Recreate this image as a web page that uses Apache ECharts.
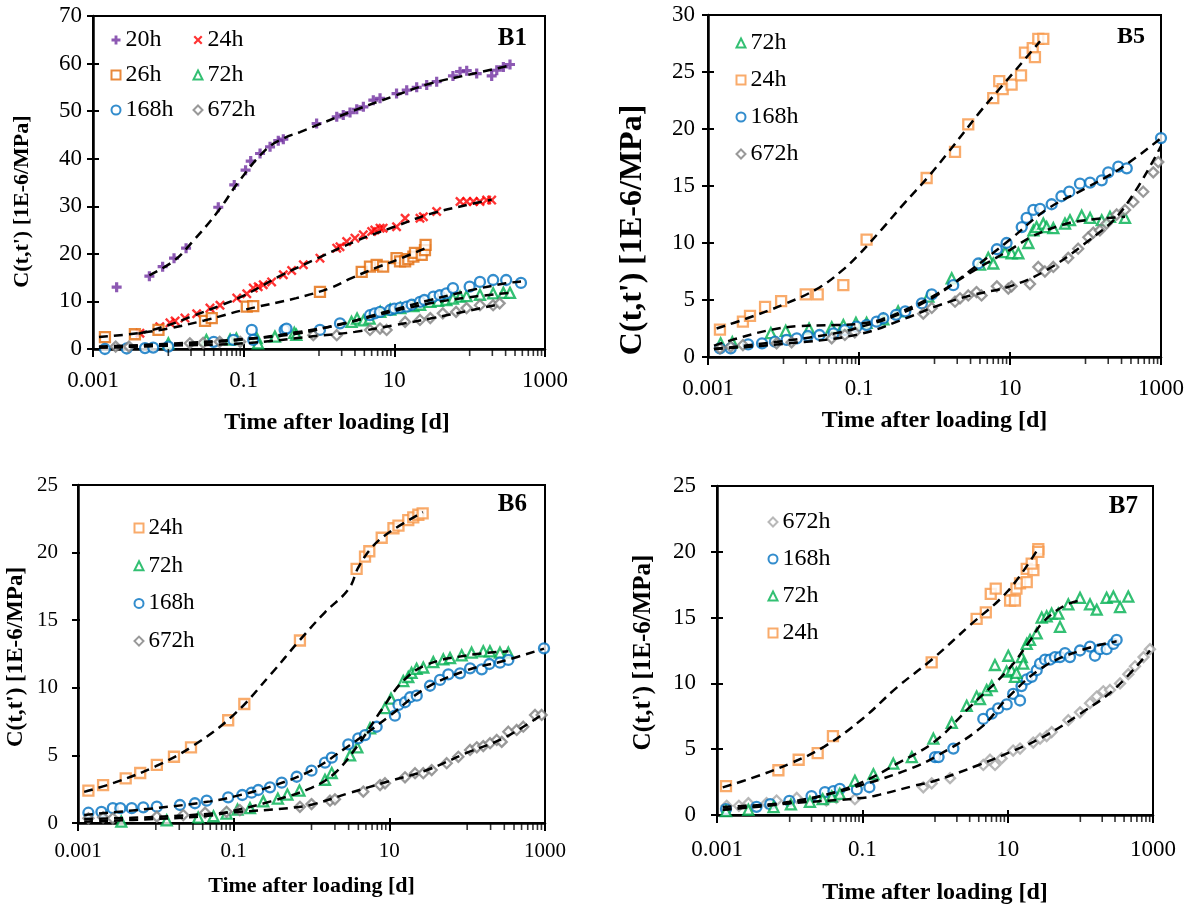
<!DOCTYPE html>
<html><head><meta charset="utf-8">
<script src="https://cdn.jsdelivr.net/npm/echarts@6/dist/echarts.min.js"></script>
<style>html,body{margin:0;padding:0;background:#fff}#c{width:1194px;height:906px}</style>
</head><body><div id="c"></div>
<script>
// ---------- axis ticks / labels ----------
const X_MIN = 0.001, X_MAX = 1000;
const xMajorTicks = [0.001, 0.1, 10, 1000];
const xMinorTicks = [0.01,0.02,0.03,0.04,0.05,0.06,0.07,0.08,0.09,1,2,3,4,5,6,7,8,9,100,200,300,400,500,600,700,800,900];
const xTitle = 'Time after loading [d]';
const yTitle = "C(t,t') [1E-6/MPa]";

// ---------- B1 ----------
const B1_20h = [[0.00206,13.0],[0.0056,15.3],[0.0084,17.3],[0.0119,19.1],[0.0172,21.2],[0.046,29.8],[0.075,34.5],[0.106,37.6],[0.124,39.5],[0.165,41.1],[0.224,42.5],[0.288,43.8],[0.336,44.1],[0.93,47.4],[1.72,48.8],[2.1,49.2],[2.58,49.7],[3.17,50.4],[3.88,50.9],[5.26,52.3],[6.46,52.7],[10.7,53.7],[14.6,54.4],[19.8,55.0],[26.9,55.5],[36.5,56.2],[60,57.4],[74.5,58.3],[91.4,58.5],[124,57.9],[196,57.4],[229,58.6],[280,59.3],[343,59.8]];
const B1_20h_fit = [[0.0056,15.5],[0.012,18.6],[0.02,22.2],[0.046,29.0],[0.089,35.5],[0.2,42.0],[0.35,44.4],[0.56,45.6],[1,47.2],[3,50.2],[10,53.2],[30,55.8],[100,57.7],[343,59.6]];
const B1_24h = [[0.0042,3.3],[0.0077,4.7],[0.0105,5.5],[0.0123,5.9],[0.0166,6.5],[0.0238,7.4],[0.0357,8.6],[0.0485,9.2],[0.081,10.7],[0.11,11.6],[0.134,12.8],[0.156,13.1],[0.182,13.5],[0.235,14.1],[0.336,15.6],[0.434,16.5],[0.62,17.7],[1.03,19.1],[1.72,21.2],[1.9,21.5],[2.33,22.6],[3.0,23.3],[3.87,24.0],[5.0,24.7],[5.5,25.0],[6.46,25.4],[7.1,25.4],[10.7,25.7],[13.9,27.5],[21.9,27.5],[24.3,27.8],[36.5,28.9],[74.5,31.0],[91.4,31.0],[112,31.0],[137,31.0],[168,31.3],[196,31.3]];
const B1_24h_fit = [[0.004,3.2],[0.01,5.0],[0.02,6.8],[0.05,9.2],[0.1,11.2],[0.3,15.3],[1,19.2],[3,22.6],[10,25.7],[30,28.4],[100,30.4],[196,31.4]];
const B1_26h = [[0.00144,2.5],[0.0036,3.1],[0.0074,4.0],[0.0307,5.9],[0.0377,6.5],[0.11,8.9],[0.134,9.0],[1.03,12.0],[3.69,16.2],[4.75,17.3],[5.83,17.7],[7.1,17.3],[10.7,19.1],[11.9,18.4],[13.9,18.4],[15.3,18.9],[17.9,19.4],[18.8,20.2],[23.1,19.8],[25.5,20.8],[26,21.9]];
const B1_26h_fit = [[0.0012,2.5],[0.004,3.3],[0.01,4.3],[0.03,6.0],[0.1,8.2],[0.5,10.7],[1.4,12.8],[2.7,14.9],[6,17.2],[12,19.0],[26,21.2]];
const B1_72h = [[0.01,1.2],[0.032,1.9],[0.066,2.0],[0.08,2.2],[0.149,2.3],[0.155,1.2],[0.26,2.6],[0.47,3.4],[0.5,3.0],[2.7,5.7],[3.2,6.4],[3.9,6.0],[4.7,6.4],[6.5,7.8],[8.8,8.3],[12,8.6],[17.9,9.0],[22,9.3],[30,9.9],[38,10.1],[49,10.3],[60,10.6],[74.5,11.0],[91,11.1],[137,11.4],[205,11.7],[280,11.8],[343,11.8]];
const B1_72h_fit = [[0.0012,0.5],[0.01,1.1],[0.1,2.1],[0.5,3.2],[2,5.3],[5,6.8],[10,8.0],[30,9.6],[100,10.9],[343,11.8]];
const B1_168h = [[0.00144,0.0],[0.0028,0.1],[0.0049,0.2],[0.0063,0.3],[0.01,0.5],[0.04,1.5],[0.073,1.9],[0.128,4.0],[0.134,1.9],[0.35,4.0],[0.37,4.3],[1.03,4.0],[1.9,5.4],[4.75,7.1],[5.5,7.5],[6.46,7.8],[8.8,8.2],[10,8.5],[12,8.7],[14.6,8.9],[17,9.3],[21.9,9.9],[25,10.3],[33,11.0],[40,11.3],[49,11.7],[60,12.8],[100,13.1],[137,14.1],[205,14.5],[305,14.5],[480,13.9]];
const B1_168h_fit = [[0.0012,0.3],[0.01,0.8],[0.1,2.0],[0.5,3.5],[2,5.2],[5,7.0],[10,8.3],[30,10.3],[100,12.3],[300,13.8],[480,14.2]];
const B1_672h = [[0.002,0.5],[0.003,0.5],[0.0193,1.2],[0.029,1.3],[0.048,1.5],[0.09,1.5],[0.84,2.9],[1.72,2.9],[4.75,4.0],[6.46,4.3],[7.9,4.0],[13.9,5.7],[21.9,6.1],[30,6.5],[44,7.5],[66,7.8],[91,8.6],[137,9.2],[205,9.2],[250,9.6]];
const B1_672h_fit = [[0.0012,0.3],[0.01,0.7],[0.1,1.2],[1,2.8],[3,3.6],[10,5.0],[30,6.4],[100,8.1],[250,9.4]];

// ---------- B5 ----------
const B5_72h = [[0.00147,1.2],[0.0021,1.3],[0.0068,2.1],[0.0107,2.3],[0.0218,2.5],[0.0435,2.6],[0.062,2.8],[0.091,3.0],[0.126,3.0],[0.21,3.3],[0.33,4.0],[0.83,5.3],[1.69,6.9],[4.0,8.1],[5.15,8.7],[6.0,8.2],[8.6,9.2],[10.5,9.1],[12.9,9.1],[17.5,10.0],[20.4,11.1],[22.5,11.4],[27.6,11.7],[30.6,11.4],[37.5,11.3],[53.5,11.7],[62.3,12.0],[89,12.4],[115,12.2],[164,12.0],[211,12.3],[334,12.2]];
const B5_72h_fit = [[0.0012,1.0],[0.003,1.8],[0.007,2.4],[0.015,2.7],[0.05,2.8],[0.1,2.9],[0.2,3.3],[0.5,4.4],[1,5.4],[3,7.4],[10,9.4],[20,10.6],[50,11.6],[100,12.0],[334,12.3]];
const B5_24h = [[0.00144,2.4],[0.0029,3.1],[0.0036,3.6],[0.0057,4.4],[0.0093,4.9],[0.0197,5.5],[0.0284,5.5],[0.062,6.3],[0.126,10.3],[0.787,15.7],[1.87,18.0],[2.8,20.4],[6.0,22.7],[7.2,24.2],[8.0,23.5],[10.5,23.9],[14,24.7],[15.8,26.7],[20,27.1],[21.4,26.3],[23.7,27.9],[27.6,27.9]];
const B5_24h_fit = [[0.0013,2.5],[0.003,3.3],[0.01,4.6],[0.03,6.1],[0.06,7.6],[0.1,9.0],[0.2,11.2],[0.4,13.5],[0.8,15.7],[1.5,17.9],[4,21.5],[7,23.4],[12,25.2],[25,27.7]];
const B5_168h = [[0.00144,0.76],[0.002,0.76],[0.0034,1.1],[0.0052,1.2],[0.0077,1.34],[0.011,1.5],[0.015,1.64],[0.021,1.84],[0.03,1.93],[0.046,2.08],[0.065,2.37],[0.093,2.66],[0.126,2.8],[0.171,3.1],[0.21,3.4],[0.31,3.7],[0.41,4.0],[0.68,4.7],[0.92,5.5],[1.77,6.3],[3.8,8.2],[6.7,9.45],[9.0,10.0],[14.3,11.4],[16.6,12.2],[20.4,12.9],[25,13.0],[35.6,13.4],[48,14.1],[61,14.5],[84.5,15.2],[115,15.3],[164,15.5],[200,16.2],[272,16.7],[352,16.55],[1000,19.2]];
const B5_168h_fit = [[0.0012,0.7],[0.01,1.4],[0.05,2.1],[0.1,2.6],[0.3,3.6],[1,5.3],[3,7.6],[10,10.3],[30,12.9],[100,14.8],[300,16.6],[1000,19.2]];
const B5_672h = [[0.00144,0.76],[0.002,0.9],[0.0029,1.05],[0.0081,1.2],[0.0128,1.29],[0.0435,1.64],[0.065,1.93],[0.088,2.17],[0.71,3.8],[0.92,4.3],[1.87,4.85],[2.18,5.15],[2.8,5.4],[3.6,5.7],[4.2,5.4],[6.7,6.2],[9.5,6.0],[10.5,6.2],[18.4,6.4],[23.7,7.9],[29,7.5],[37.5,7.9],[59,8.7],[80,9.5],[109,10.5],[127,10.9],[155,11.1],[190,11.7],[259,12.5],[334,12.9],[430,13.6],[582,14.5],[790,16.2],[920,17.1]];
const B5_672h_fit = [[0.0012,0.7],[0.01,1.15],[0.1,2.0],[0.5,3.6],[1,4.4],[3,5.4],[10,6.2],[30,7.6],[100,10.0],[300,12.8],[1000,18.5]];

// ---------- B6 ----------
const B6_24h = [[0.00136,2.4],[0.0021,2.8],[0.0041,3.3],[0.0063,3.7],[0.0103,4.3],[0.0171,4.9],[0.0283,5.6],[0.085,7.6],[0.137,8.8],[0.71,13.5],[3.8,18.8],[4.87,19.7],[5.53,20.1],[7.98,21.1],[11.3,21.8],[13.1,22.0],[17.5,22.4],[20.3,22.6],[23.6,22.8],[26.8,22.9]];
const B6_24h_fit = [[0.0012,2.3],[0.003,3.0],[0.01,4.2],[0.03,5.7],[0.1,8.0],[0.3,11.0],[0.7,13.5],[1.5,15.6],[3,17.3],[4,18.9],[6,20.4],[10,21.5],[27,23.0]];
const B6_72h = [[0.0036,0.1],[0.0138,0.2],[0.035,0.4],[0.055,0.5],[0.081,0.7],[0.112,1.0],[0.162,1.1],[0.24,1.6],[0.37,1.8],[0.49,2.1],[0.7,2.4],[1.49,3.2],[1.82,3.7],[3.13,5.0],[3.88,5.6],[5.65,7.0],[8.8,8.5],[10.5,9.2],[15.1,10.5],[17.5,10.8],[19.3,11.1],[22.4,11.4],[27.3,11.5],[36.7,11.9],[49.4,12.1],[60.2,12.2],[85,12.4],[114,12.6],[161,12.7],[196,12.7],[264,12.6],[338,12.6]];
const B6_72h_fit = [[0.0012,0.1],[0.01,0.3],[0.05,0.55],[0.1,0.9],[0.3,1.6],[1,2.6],[2,3.7],[4,5.8],[8,8.4],[15,10.5],[30,11.7],[100,12.4],[338,12.7]];
const B6_168h = [[0.00136,0.76],[0.002,0.83],[0.0028,1.1],[0.0035,1.1],[0.0049,1.1],[0.0069,1.16],[0.0103,1.21],[0.0204,1.33],[0.0318,1.46],[0.045,1.65],[0.085,1.9],[0.129,2.07],[0.17,2.24],[0.207,2.44],[0.293,2.64],[0.414,2.98],[0.645,3.42],[1.0,3.87],[1.49,4.46],[1.82,4.83],[2.97,5.82],[3.99,6.26],[4.87,6.5],[6.87,7.12],[11.8,7.94],[13.1,8.73],[15.9,8.93],[18.5,9.3],[22.5,9.42],[33.3,10.15],[44.8,10.58],[57.3,11.0],[81,11.07],[109,11.44],[154,11.37],[193,11.76],[264,11.86],[338,12.06],[971,12.92]];
const B6_168h_fit = [[0.0012,0.6],[0.01,1.1],[0.05,1.6],[0.1,1.95],[0.3,2.7],[1,3.9],[3,5.7],[5,6.6],[10,7.9],[30,10.0],[100,11.3],[300,12.0],[971,12.9]];
const B6_672h = [[0.00136,0.35],[0.0021,0.42],[0.0028,0.35],[0.0103,0.47],[0.0225,0.59],[0.043,0.76],[0.081,0.83],[0.12,0.96],[0.71,1.2],[1.0,1.4],[1.73,1.65],[2.0,1.75],[4.63,2.32],[7.6,2.81],[8.8,2.94],[15.9,3.38],[21.4,3.68],[27.3,3.68],[35,3.92],[54.6,4.42],[77,4.9],[109,5.4],[133,5.6],[161,5.69],[197,5.9],[240,6.14],[278,6.0],[338,6.75],[433,6.88],[526,7.12],[745,7.99],[906,7.99]];
const B6_672h_fit = [[0.0012,0.3],[0.01,0.45],[0.1,0.8],[0.5,1.1],[1,1.35],[3,2.2],[10,3.1],[30,3.9],[100,5.2],[300,6.3],[906,8.0]];

// ---------- B7 ----------
const B7_672h = [[0.00136,0.7],[0.002,0.7],[0.0027,0.9],[0.0048,0.9],[0.0066,1.1],[0.0125,1.3],[0.032,1.1],[0.044,1.3],[0.079,1.2],[0.69,2.1],[0.9,2.4],[1.61,2.8],[4.62,3.8],[5.72,4.2],[6.7,3.8],[8.26,4.3],[11.9,4.9],[14.8,5.05],[22.5,5.5],[27.9,5.8],[34.4,6.0],[40.3,6.3],[68.4,7.2],[99,7.8],[136,8.5],[168,9.0],[207,9.4],[256,9.5],[352,10.0],[457,10.7],[565,11.3],[741,12.0],[908,12.6]];
const B7_672h_fit = [[0.0012,0.6],[0.01,0.9],[0.1,1.3],[0.175,1.55],[0.5,2.2],[1,2.6],[4,3.8],[10,4.7],[30,5.9],[100,7.7],[300,9.6],[908,12.5]];
const B7_168h = [[0.00133,0.45],[0.0035,0.62],[0.0054,0.82],[0.0099,1.07],[0.02,1.44],[0.0306,1.74],[0.04,1.81],[0.049,1.99],[0.084,1.94],[0.125,2.11],[1.0,4.4],[1.12,4.4],[1.79,5.05],[4.62,7.3],[6.03,7.7],[7.4,8.1],[9.7,8.4],[11.9,9.2],[14.8,8.7],[15.5,9.8],[18.3,10.3],[21.4,10.5],[25.1,11.0],[27.9,11.5],[32.7,11.8],[38.2,11.8],[44.8,12.0],[52.5,12.0],[61.5,12.3],[72,12.0],[99,12.5],[136,12.8],[159,12.1],[186,12.6],[230,12.6],[285,13.0],[316,13.3]];
const B7_168h_fit = [[0.0012,0.4],[0.01,1.0],[0.05,1.8],[0.1,2.3],[0.175,2.7],[0.5,3.6],[1,4.4],[4.2,6.6],[10,8.9],[30,11.2],[100,12.5],[316,13.2]];
const B7_72h = [[0.00133,0.3],[0.0027,0.4],[0.006,0.6],[0.0104,0.8],[0.019,1.0],[0.0285,1.2],[0.038,1.4],[0.049,1.6],[0.079,2.6],[0.142,3.1],[0.267,3.9],[0.48,4.4],[0.95,5.8],[1.7,7.0],[2.73,8.3],[3.74,9.0],[4.16,8.8],[5.14,9.5],[6.03,9.8],[6.68,11.4],[9.66,10.9],[10.2,12.1],[11.3,11.0],[12.6,10.5],[13.2,10.8],[15.6,12.0],[16.4,11.5],[18.3,13.0],[20.3,13.3],[25.1,13.8],[29.4,15.0],[34.4,15.1],[40.3,15.3],[49.8,15.3],[52.5,14.3],[68.4,16.0],[99,16.5],[136,16.0],[168,15.6],[230,16.5],[285,16.6],[352,15.8],[457,16.6]];
const B7_72h_fit = [[0.0012,0.4],[0.01,0.9],[0.03,1.5],[0.1,2.5],[0.3,3.9],[1,5.6],[3,8.2],[10,11.0],[20,13.2],[30,14.6],[60,15.9],[100,16.3]];
const B7_24h = [[0.00133,2.2],[0.007,3.4],[0.0133,4.2],[0.0243,4.7],[0.0394,6.0],[0.9,11.6],[3.74,14.9],[5.0,15.4],[5.85,16.8],[6.85,17.2],[10.8,16.3],[12.6,16.3],[13.2,17.2],[14.8,17.6],[18.3,17.7],[18.3,18.7],[22.6,18.6],[21.4,19.1],[26.4,20.2],[26.4,20.0]];
const B7_24h_fit = [[0.0012,2.1],[0.003,2.8],[0.01,3.9],[0.03,5.2],[0.1,7.3],[0.3,9.7],[0.9,11.8],[3,14.4],[10,17.0],[26,20.2]];

// ---------- styling ----------
const FONT = '"Liberation Serif","Times New Roman",serif';
const PLUS = 'path://M3.4,0H6.6V3.4H10V6.6H6.6V10H3.4V6.6H0V3.4H3.4Z';
const CROSS = 'path://M0,1.7L1.7,0L5,3.3L8.3,0L10,1.7L6.7,5L10,8.3L8.3,10L5,6.7L1.7,10L0,8.3L3.3,5Z';
const MK = {
  plus:   {symbol: PLUS, size: 10, filled: true},
  cross:  {symbol: CROSS, size: 10, filled: true},
  square: {symbol: 'rect', size: 10, filled: false},
  tri:    {symbol: 'triangle', size: 10, filled: false},
  circle: {symbol: 'circle', size: 10, filled: false},
  diam:   {symbol: 'diamond', size: 10, filled: false}
};

const panels = [
  {id:'B1', grid:[93,16,452,333], yMax:70, yInt:10, tick:23, xLM:20, yLM:11,
   xT:{size:24, gap:62, pad:36}, yT:{size:22, gap:60, shift:19},
   tag:{x:527, y:39, size:25},
   legends:[{left:110.5, top:27, gap:9, keys:['20h','26h','168h']},{left:192.5, top:27, gap:9, keys:['24h','72h','672h']}], lfont:24,
   series:[
     {key:'20h', data:B1_20h, fit:B1_20h_fit, mk:'plus', color:'#7030A0'},
     {key:'24h', data:B1_24h, fit:B1_24h_fit, mk:'cross', color:'#FF0000'},
     {key:'26h', data:B1_26h, fit:B1_26h_fit, mk:'square', color:'#E46C0A'},
     {key:'72h', data:B1_72h, fit:B1_72h_fit, mk:'tri', color:'#00B050'},
     {key:'168h', data:B1_168h, fit:B1_168h_fit, mk:'circle', color:'#0070C0'},
     {key:'672h', data:B1_672h, fit:B1_672h_fit, mk:'diam', color:'#7F7F7F'}
   ]},
  {id:'B5', grid:[708,15,453,342], yMax:30, yInt:5, tick:23, xLM:20, yLM:13,
   xT:{size:24, gap:52, pad:0}, yT:{size:32, gap:59, shift:44},
   tag:{x:1145, y:37, size:24},
   legends:[{left:735.5, top:30, gap:11, keys:['72h','24h','168h','672h']}], lfont:24,
   series:[
     {key:'72h', data:B5_72h, fit:B5_72h_fit, mk:'tri', color:'#00B050'},
     {key:'24h', data:B5_24h, fit:B5_24h_fit, mk:'square', color:'#F79646'},
     {key:'168h', data:B5_168h, fit:B5_168h_fit, mk:'circle', color:'#0070C0'},
     {key:'672h', data:B5_672h, fit:B5_672h_fit, mk:'diam', color:'#808080'}
   ]},
  {id:'B6', grid:[78,485,467,338], yMax:25, yInt:5, tick:21, xLM:18, yLM:20,
   xT:{size:22, gap:52, pad:0}, yT:{size:23, gap:50, shift:3},
   tag:{x:527, y:505, size:25},
   legends:[{left:133.5, top:515, gap:11.7, keys:['24h','72h','168h','672h']}], lfont:23,
   series:[
     {key:'24h', data:B6_24h, fit:B6_24h_fit, mk:'square', color:'#F79646'},
     {key:'72h', data:B6_72h, fit:B6_72h_fit, mk:'tri', color:'#00B050'},
     {key:'168h', data:B6_168h, fit:B6_168h_fit, mk:'circle', color:'#0070C0'},
     {key:'672h', data:B6_672h, fit:B6_672h_fit, mk:'diam', color:'#808080'}
   ]},
  {id:'B7', grid:[717,486,436,335], yMax:25, yInt:5, tick:23, xLM:23, yLM:21,
   xT:{size:24, gap:66, pad:0}, yT:{size:25, gap:61, shift:2},
   tag:{x:1138, y:507, size:25},
   legends:[{left:767.5, top:509, gap:11, keys:['672h','168h','72h','24h']}], lfont:24,
   series:[
     {key:'672h', data:B7_672h, fit:B7_672h_fit, mk:'diam', color:'#A6A6A6'},
     {key:'168h', data:B7_168h, fit:B7_168h_fit, mk:'circle', color:'#0070C0'},
     {key:'72h', data:B7_72h, fit:B7_72h_fit, mk:'tri', color:'#00B050'},
     {key:'24h', data:B7_24h, fit:B7_24h_fit, mk:'square', color:'#F79646'}
   ]}
];

function fmtX(v) {
  const e = Math.round(Math.log10(v));
  return e < 0 ? Math.pow(10, e).toFixed(-e) : String(Math.round(Math.pow(10, e)));
}

const option = {animation:false, backgroundColor:'#fff', grid:[], xAxis:[], yAxis:[], series:[], legend:[], graphic:[]};

panels.forEach(function (p, i) {
  const xi = 2 * i, yi = 2 * i;
  option.grid.push({left:p.grid[0], top:p.grid[1], width:p.grid[2], height:p.grid[3], show:true, borderColor:'#000', borderWidth:2, backgroundColor:'transparent'});
  option.xAxis.push({
    type:'log', logBase:10, gridIndex:i, min:X_MIN, max:X_MAX, interval:2, position:'bottom',
    axisLine:{show:true, onZero:false, lineStyle:{color:'#000', width:2.5}},
    axisTick:{show:true, inside:false, length:8, lineStyle:{color:'#000', width:2}},
    axisLabel:{show:true, margin:p.xLM, color:'#000', fontFamily:FONT, fontSize:p.tick, formatter:fmtX},
    splitLine:{show:false},
    name:xTitle, nameLocation:'middle', nameGap:p.xT.gap,
    nameTextStyle:{fontFamily:FONT, fontWeight:'bold', fontSize:p.xT.size, color:'#000', padding:[0,0,0,p.xT.pad]}
  });
  option.xAxis.push({
    type:'log', logBase:10, gridIndex:i, min:X_MIN, max:X_MAX, interval:2, position:'bottom',
    axisLine:{show:false, onZero:false}, axisLabel:{show:false}, splitLine:{show:false},
    axisTick:{show:true, inside:true, length:5, lineStyle:{color:'#000', width:2}}
  });
  option.yAxis.push({
    type:'value', gridIndex:i, min:0, max:p.yMax, interval:p.yInt, position:'left',
    axisLine:{show:true, onZero:false, lineStyle:{color:'#000', width:2.5}},
    axisTick:{show:true, inside:false, length:6, lineStyle:{color:'#000', width:2}},
    axisLabel:{show:true, margin:p.yLM, color:'#000', fontFamily:FONT, fontSize:p.tick},
    splitLine:{show:false},
    name:yTitle, nameLocation:'middle', nameGap:p.yT.gap,
    nameTextStyle:{fontFamily:FONT, fontWeight:'bold', fontSize:p.yT.size, color:'#000', padding:[0, 2 * p.yT.shift, 0, 0]}
  });
  option.yAxis.push({
    type:'value', gridIndex:i, min:0, max:p.yMax, interval:p.yInt, position:'left',
    axisLine:{show:false, onZero:false}, axisLabel:{show:false}, splitLine:{show:false},
    axisTick:{show:true, inside:true, length:p.id === 'B6' ? 2 : 6, lineStyle:{color:'#000', width:2}}
  });

  // minor ticks of the log axis (1..9 x 10^k in alternate decades)
  option.series.push({
    type:'scatter', xAxisIndex:xi, yAxisIndex:yi, silent:true, clip:false, z:6,
    symbol:'rect', symbolSize:[1.6, 7], symbolOffset:[0, 3.5],
    itemStyle:{color:'#000'}, emphasis:{disabled:true},
    data:xMinorTicks.map(function (v) { return [v, 0]; })
  });

  p.series.forEach(function (s) {
    const m = MK[s.mk];
    option.series.push({
      type:'scatter', name:p.id + '|' + s.key, xAxisIndex:xi, yAxisIndex:yi, clip:false, z:3,
      symbol:m.symbol, symbolSize:m.size,
      itemStyle: m.filled ? {color:s.color, borderWidth:0} : {color:'#fff', borderColor:s.color, borderWidth:2.3},
      emphasis:{disabled:true},
      data:s.data
    });
    option.series.push({
      type:'line', name:p.id + '|' + s.key + ' fit', xAxisIndex:xi, yAxisIndex:yi, z:5, silent:true,
      showSymbol:false, symbol:'none', smooth:0.4, clip:false,
      lineStyle:{color:'#000', width:2.5, type:[9, 6]}, emphasis:{disabled:true},
      data:s.fit
    });
  });

  p.legends.forEach(function (lg) {
    option.legend.push({
      orient:'vertical', left:lg.left, top:lg.top, padding:0, itemGap:lg.gap,
      itemWidth:9, itemHeight:9, selectedMode:false,
      data:lg.keys.map(function (k) { return p.id + '|' + k; }),
      formatter:function (n) { return n.split('|')[1]; },
      textStyle:{fontFamily:FONT, fontSize:p.lfont, color:'#000', lineHeight:26}
    });
  });

  option.graphic.push({
    type:'text', x:p.tag.x, y:p.tag.y, silent:true,
    style:{text:p.id, fill:'#000', font:'bold ' + p.tag.size + 'px ' + FONT, align:'right', verticalAlign:'middle'}
  });
});

const chart = echarts.init(document.getElementById('c'), null, {renderer:'canvas'});
chart.setOption(option);
</script>
</body></html>
